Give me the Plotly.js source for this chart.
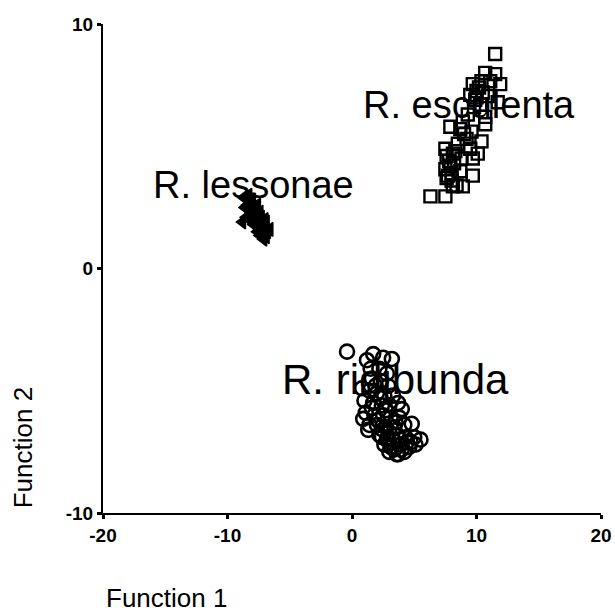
<!DOCTYPE html>
<html>
<head>
<meta charset="utf-8">
<script src="https://cdn.plot.ly/plotly-3.0.1.min.js"></script>
<style>html,body{margin:0;padding:0;background:#fff;}#chart{width:615px;height:614px;}</style>
</head>
<body>
<div id="chart"></div>
<script>
// R. esculenta (squares)
var esculentaX = [11.5,10.7,11.5,10.4,11.1,11.9,9.7,10.0,9.5,10.9,11.7,10.3,9.3,10.7,7.9,8.9,10.7,8.7,9.6,9.2,10.4,7.5,8.3,9.5,10.1,7.6,8.8,9.7,7.5,8.0,8.7,9.7,7.6,8.4,8.9,8.1,6.3,7.5,10.2,9.9,8.2,7.9,7.7,8.0,7.8,8.1,10.5,10.0,9.8,8.5,9.0];
var esculentaY = [8.77,8.0,7.95,7.66,7.66,7.54,7.54,7.26,7.1,7.05,6.8,6.7,6.3,6.2,5.8,6.0,5.9,5.7,5.6,5.3,5.2,4.9,4.8,4.9,4.7,4.6,4.5,4.5,4.06,3.9,3.98,3.8,3.7,3.4,3.36,3.36,2.95,2.95,7.4,6.9,4.3,4.2,3.8,3.6,4.4,4.7,7.2,7.0,6.6,5.1,5.5];
// R. lessonae (triangles)
var lessonaeX = [-8.7,-8.3,-8.0,-8.4,-7.9,-7.6,-8.1,-7.7,-7.4,-7.8,-7.3,-7.5,-7.0,-7.2,-6.8,-7.4,-6.9,-8.8,-8.5,-7.0,-6.6,-7.6,-8.2,-7.1,-8.6,-7.9,-7.3,-6.9];
var lessonaeY = [2.9,3.0,2.8,2.6,2.5,2.6,2.3,2.2,2.3,2.0,1.9,1.7,1.7,1.5,1.5,1.35,1.3,1.9,2.1,2.0,1.6,1.5,2.0,1.2,2.5,1.8,2.1,1.9];
// R. ridibunda (circles)
var ridibundaX = [-0.4,1.2,1.7,2.5,3.2,1.5,2.2,2.8,1.6,2.3,2.9,0.8,1.4,2.0,2.6,3.3,1.0,1.7,2.4,3.0,3.7,4.0,1.1,1.8,2.5,3.1,3.8,0.9,1.4,2.0,2.7,3.4,4.2,4.8,1.3,2.2,2.9,3.6,4.3,5.0,5.5,2.6,3.2,3.9,4.6,5.1,3.6,4.2,3.0,1.9,2.3,2.7,1.6,2.1,2.5,3.0,3.5,2.4,2.8,3.3,3.9,4.4,3.4,4.0,4.7,3.1,3.7];
var ridibundaY = [-3.4,-3.75,-3.5,-3.65,-3.7,-4.1,-4.1,-4.3,-4.5,-4.6,-4.8,-4.9,-5.0,-5.1,-5.2,-5.2,-5.4,-5.5,-5.6,-5.6,-5.5,-5.75,-5.9,-6.0,-6.0,-6.1,-6.1,-6.15,-6.4,-6.4,-6.5,-6.5,-6.4,-6.35,-6.6,-6.8,-6.9,-6.8,-6.9,-6.9,-7.0,-7.2,-7.3,-7.2,-7.3,-7.2,-7.6,-7.5,-7.5,-4.8,-5.3,-5.8,-5.7,-6.2,-6.6,-6.7,-6.3,-6.9,-7.0,-7.0,-7.0,-7.1,-7.4,-7.4,-7.1,-7.3,-7.6];

var groupNames = ["R. esculenta","R. lessonae","R. ridibunda"];
var xTicks = [-20,-10,0,10,20];
var yTicks = [-10,0,10];

var traces = [
  {x: esculentaX, y: esculentaY, type:'scatter', mode:'markers', name: groupNames[0],
   marker:{symbol:'square-open', size:12, color:'#000', line:{width:2.4, color:'#000'}}},
  {x: lessonaeX, y: lessonaeY, type:'scatter', mode:'markers', name: groupNames[1],
   marker:{symbol:'triangle-left', size:12, color:'#000', line:{width:1.5, color:'#000'}}},
  {x: ridibundaX, y: ridibundaY, type:'scatter', mode:'markers', name: groupNames[2],
   marker:{symbol:'circle-open', size:14, color:'#000', line:{width:2.6, color:'#000'}}}
];

var tickFont = {family:'"Liberation Sans", Arial, sans-serif', size:19, color:'#000', weight:'bold'};
var lblFont = {family:'"Liberation Sans", Arial, sans-serif', size:38, color:'#000'};
var lblFontR = {family:'"Liberation Sans", Arial, sans-serif', size:42, color:'#000'};
var titleFont = {family:'"Liberation Sans", Arial, sans-serif', size:26, color:'#000'};

var layout = {
  width:615, height:614,
  margin:{l:103, r:14, t:24, b:101, pad:0},
  paper_bgcolor:'#fff', plot_bgcolor:'#fff',
  showlegend:false,
  xaxis:{range:[-20,20], tickvals:xTicks, ticktext:xTicks.map(String), showgrid:false, zeroline:false,
         showline:true, linecolor:'#000', linewidth:2, ticks:'outside', ticklen:4, tickwidth:3, tickcolor:'#000',
         tickfont:tickFont},
  yaxis:{range:[-10,10], tickvals:yTicks, ticktext:yTicks.map(String), showgrid:false, zeroline:false,
         showline:true, linecolor:'#000', linewidth:2, ticks:'outside', ticklen:4, tickwidth:3, tickcolor:'#000',
         tickfont:tickFont},
  annotations:[
    {text:groupNames[0], x:9.4, y:6.68, xref:'x', yref:'y', showarrow:false, font:lblFont},
    {text:groupNames[1], x:-7.9, y:3.4, xref:'x', yref:'y', showarrow:false, font:lblFont},
    {text:groupNames[2], x:3.46, y:-4.55, xref:'x', yref:'y', showarrow:false, font:lblFontR},
    {text:'Function 1', xref:'paper', yref:'paper', x:0.1275, y:-0.174, xanchor:'center', yanchor:'middle', showarrow:false, font:titleFont},
    {text:'Function 2', xref:'paper', yref:'paper', x:-0.16, y:0.133, xanchor:'center', yanchor:'middle', textangle:-90, showarrow:false, font:titleFont}
  ]
};

Plotly.newPlot('chart', traces, layout, {displayModeBar:false, staticPlot:true});
</script>
</body>
</html>
